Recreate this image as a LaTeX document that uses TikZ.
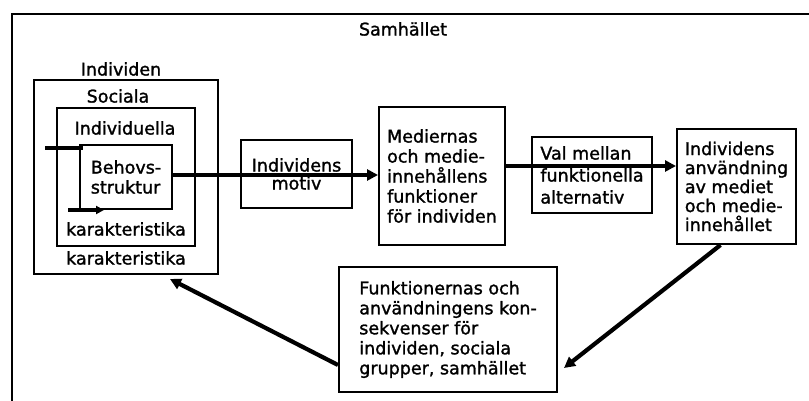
\documentclass[tikz,border=0pt]{standalone}
\usepackage{fontspec}
\setmainfont[FakeBold=1.4,BoldFont=DejaVu Sans,BoldFeatures={FakeBold=1.4}]{DejaVu Sans}
\usetikzlibrary{arrows.meta}
\begin{document}
\begin{tikzpicture}[x=1pt,y=-1pt,
  every node/.style={font=\fontsize{17.5}{20}\selectfont\bfseries, inner sep=0pt},
  box/.style={draw, line width=2pt, fill=white},
  txt/.style={},
  frame/.style={line width=1.7pt},
  flow/.style={line width=4.2pt, -{Triangle[length=11pt,width=11pt]}},
  thin flow/.style={line width=3.4pt, -{Triangle[length=8pt,width=8pt]}},
  bar/.style={line width=3.4pt}]
\useasboundingbox (0,0) rectangle (809,401);
\draw[frame] (12,401) -- (12,14) -- (809,14);
\node[txt] (samh) at (403,29) {Samhället};
\node[txt] (indlab) at (121,69) {Individen};
\node[box, minimum width=184pt, minimum height=194pt] (indbox) at (126,177) {};
\node[txt] (soclab) at (118,96) {Sociala};
\node[box, minimum width=138pt, minimum height=138pt] (socbox) at (126,177) {};
\node[txt] (indiv) at (125,128) {Individuella};
\node[txt] (kar1) at (126,229) {karakteristika};
\node[txt] (kar2) at (126,258) {karakteristika};
\node[box, minimum width=92pt, minimum height=64pt, align=left] (behov) at (126,177) {Behovs-\\struktur};
\node[box, minimum width=111pt, minimum height=68pt, align=center, font=\fontsize{17.5}{18}\selectfont\bfseries] (motiv) at (296.5,174) {Individens\\motiv};
\node[box, minimum width=126pt, minimum height=138pt, align=left] (med) at (442,176) {Mediernas\\och medie-\\innehållens\\funktioner\\för individen};
\node[box, minimum width=120pt, minimum height=76pt, align=left, font=\fontsize{17.5}{22}\selectfont\bfseries] (val) at (592,175) {Val mellan\\funktionella\\alternativ};
\node[box, minimum width=119pt, minimum height=115pt, align=left, font=\fontsize{17.5}{19}\selectfont\bfseries] (use) at (736.5,186.5) {Individens\\användning\\av mediet\\och medie-\\innehållet};
\node[box, minimum width=218pt, minimum height=125pt, align=left] (fun) at (448,329.5) {Funktionernas och\\användningens kon-\\sekvenser för\\individen, sociala\\grupper, samhället};
\coordinate (inA) at ([xshift=-34pt,yshift=-4pt]behov.north west);
\coordinate (inB) at ([xshift=4pt,yshift=-4pt]behov.north west);
\coordinate (loA) at ([xshift=-11pt]behov.south west);
\coordinate (loB) at ([xshift=25pt]behov.south west);
\draw[bar] (inA) -- (inB);
\draw[thin flow] (loA) -- (loB);
\draw[flow] ([yshift=2pt]behov.east) -- ([yshift=1pt]med.west);
\draw[flow] ([yshift=10pt]med.east) -- ([yshift=20.5pt]use.west);
\draw[flow] ([xshift=-16pt]use.south) -- ([xshift=6pt,yshift=-38.5pt]fun.east);
\draw[flow] ([yshift=-35.5pt]fun.west) -- ([xshift=44pt,yshift=-4pt]indbox.south);
\end{tikzpicture}
\end{document}
